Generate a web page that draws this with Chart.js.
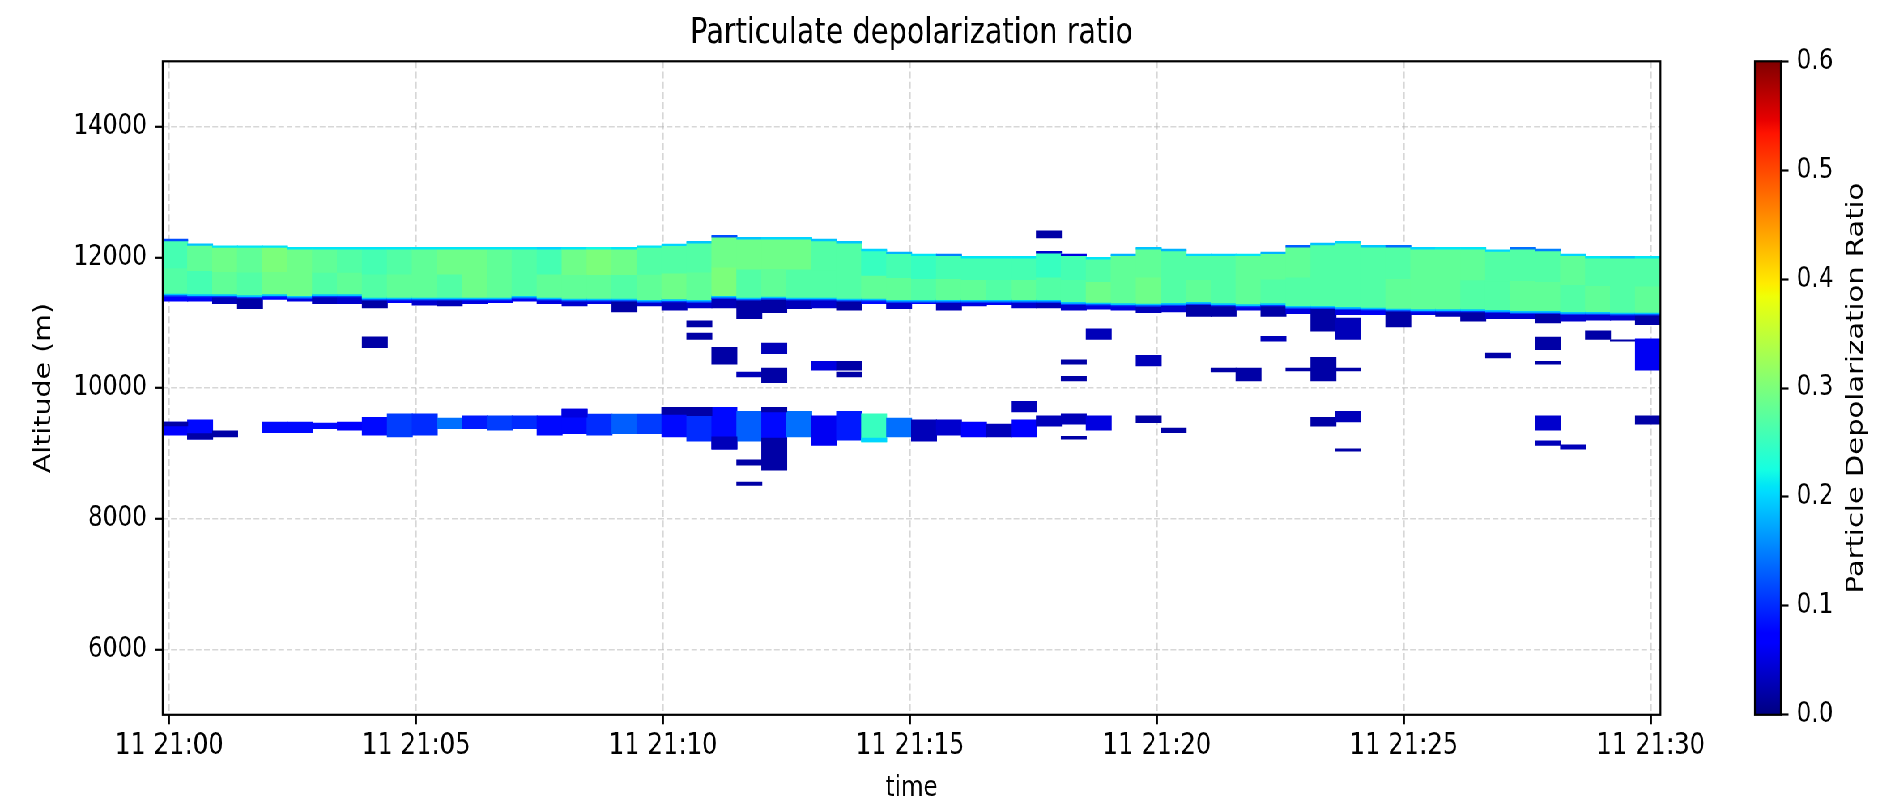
<!DOCTYPE html>
<html>
<head>
<meta charset="utf-8">
<script src="https://cdn.jsdelivr.net/npm/chart.js@4.4.1/dist/chart.umd.min.js"></script>
<style>
  html, body { margin: 0; padding: 0; background: #fff; overflow: hidden; }
  /* the figure is laid out on a wide stage and narrowed to the window width */
  #stage { position: absolute; left: 0; top: 0; width: 2335px; height: 799px;
           transform: scaleX(0.80985); transform-origin: 0 0; }
  #main { position: absolute; left: 0; top: 0; }
  #cbar { position: absolute; left: 2120px; top: 0; }
</style>
</head>
<body>
<div id="stage">
  <canvas id="main" width="2335" height="799"></canvas>
  <canvas id="cbar" width="215" height="799"></canvas>
</div>
<script>
// ---- profile times: seconds after 11 21:00:00 (centre of each ~30 s profile) ----
const timeSec = [
  7.1, 37.4, 67.8, 98.1, 128.4, 158.8, 189.1, 219.4, 249.7, 280.1,
  310.4, 340.7, 371.1, 401.4, 431.7, 462.1, 492.4, 522.7, 553.0, 583.4,
  613.7, 644.0, 674.4, 704.7, 735.0, 765.4, 795.7, 826.0, 856.3, 886.7,
  917.0, 947.3, 977.7, 1008.0, 1038.3, 1068.7, 1099.0, 1129.3, 1159.6, 1190.0,
  1220.3, 1250.6, 1281.0, 1311.3, 1341.6, 1372.0, 1402.3, 1432.6, 1462.9, 1493.3,
  1523.6, 1553.9, 1584.3, 1614.6, 1644.9, 1675.3, 1705.6, 1735.9, 1766.2, 1796.6
];

// ---- cirrus deck (m) ----
const cirrusTop = [
  12275, 12204, 12173, 12173, 12173, 12148, 12148, 12148, 12148, 12148,
  12148, 12148, 12148, 12148, 12148, 12148, 12148, 12148, 12148, 12173,
  12199, 12240, 12332, 12301, 12301, 12301, 12275, 12240, 12122, 12077,
  12046, 12046, 12010, 12010, 12010, 12087, 12046, 11995, 12046, 12148,
  12122, 12046, 12046, 12046, 12077, 12179, 12214, 12240, 12179, 12179,
  12148, 12148, 12148, 12112, 12148, 12122, 12046, 12010, 12010, 12010
];
// bottom of the bright (ice) part of the deck
const cirrusBodyBase = [
  11408, 11398, 11398, 11383, 11398, 11373, 11398, 11398, 11347, 11347,
  11347, 11347, 11347, 11347, 11373, 11347, 11332, 11332, 11332, 11312,
  11322, 11312, 11373, 11347, 11362, 11347, 11347, 11332, 11332, 11312,
  11312, 11312, 11312, 11312, 11312, 11312, 11281, 11271, 11260, 11255,
  11265, 11281, 11261, 11245, 11261, 11220, 11220, 11204, 11194, 11179,
  11169, 11169, 11169, 11158, 11143, 11143, 11128, 11128, 11118, 11118
];
// lowest detected signal of the deck (low-depolarization fringe below the body)
const cirrusBase = [
  11332, 11332, 11296, 11220, 11362, 11332, 11296, 11296, 11230, 11312,
  11271, 11261, 11296, 11312, 11332, 11296, 11261, 11296, 11169, 11261,
  11194, 11230, 11230, 11067, 11158, 11220, 11230, 11194, 11296, 11220,
  11296, 11194, 11261, 11281, 11230, 11230, 11194, 11210, 11194, 11158,
  11169, 11102, 11102, 11194, 11102, 11143, 10873, 11128, 11128, 10939,
  11128, 11102, 11026, 11067, 11067, 11000, 11026, 11041, 11041, 10975
];
const cirrusFringeRatio = [
  0.07, 0.06, 0.03, 0.02, 0.07, 0.05, 0.03, 0.04, 0.02, 0.06,
  0.04, 0.03, 0.05, 0.06, 0.06, 0.05, 0.04, 0.05, 0.02, 0.04,
  0.03, 0.04, 0.03, 0.02, 0.02, 0.03, 0.04, 0.02, 0.08, 0.04,
  0.07, 0.03, 0.05, 0.06, 0.04, 0.03, 0.04, 0.05, 0.05, 0.03,
  0.04, 0.02, 0.02, 0.05, 0.02, 0.05, 0.02, 0.05, 0.06, 0.02,
  0.05, 0.03, 0.02, 0.04, 0.04, 0.02, 0.04, 0.04, 0.04, 0.02
];
const cirrusLowerRatio = [
  0.27, 0.26, 0.28, 0.27, 0.29, 0.29, 0.27, 0.28, 0.27, 0.28,
  0.28, 0.27, 0.29, 0.28, 0.27, 0.28, 0.28, 0.28, 0.27, 0.28,
  0.29, 0.28, 0.30, 0.27, 0.28, 0.27, 0.27, 0.27, 0.28, 0.28,
  0.27, 0.28, 0.28, 0.27, 0.28, 0.27, 0.27, 0.29, 0.28, 0.29,
  0.27, 0.28, 0.27, 0.28, 0.27, 0.27, 0.27, 0.27, 0.27, 0.28,
  0.28, 0.28, 0.27, 0.27, 0.28, 0.28, 0.27, 0.28, 0.27, 0.28
];
const cirrusUpperRatio = [
  0.26, 0.28, 0.29, 0.28, 0.30, 0.29, 0.28, 0.27, 0.26, 0.27,
  0.28, 0.29, 0.29, 0.28, 0.27, 0.26, 0.29, 0.30, 0.29, 0.27,
  0.27, 0.27, 0.29, 0.29, 0.29, 0.29, 0.27, 0.27, 0.25, 0.26,
  0.25, 0.26, 0.26, 0.26, 0.26, 0.25, 0.26, 0.27, 0.28, 0.28,
  0.27, 0.27, 0.27, 0.28, 0.28, 0.28, 0.27, 0.27, 0.27, 0.27,
  0.28, 0.28, 0.28, 0.27, 0.27, 0.27, 0.28, 0.27, 0.27, 0.27
];
const cirrusTopRatio = [
  0.12, 0.19, 0.21, 0.21, 0.21, 0.21, 0.21, 0.21, 0.21, 0.21,
  0.21, 0.21, 0.21, 0.21, 0.21, 0.20, 0.21, 0.22, 0.21, 0.21,
  0.20, 0.19, 0.12, 0.19, 0.20, 0.20, 0.19, 0.19, 0.20, 0.18,
  0.21, 0.15, 0.21, 0.21, 0.21, 0.04, 0.05, 0.21, 0.18, 0.19,
  0.18, 0.20, 0.20, 0.21, 0.18, 0.13, 0.19, 0.20, 0.19, 0.14,
  0.20, 0.21, 0.21, 0.20, 0.14, 0.15, 0.20, 0.21, 0.19, 0.21
];

// ---- mid-level layer near 9.4 km (m); null = nothing detected ----
const layerBase = [
  9282, 9220, 9256, null, 9322, 9322, 9384, 9358, 9282, 9256,
  9282, 9384, 9384, 9358, 9384, 9282, 9307, 9282, 9307, 9307,
  9256, 9190, 9067, 9190, 9230, 9256, 9128, 9205, 9180, 9256,
  9190, 9282, 9256, 9256, 9256, 9419, 9450, 9358, null, 9476,
  9322, null, null, null, null, null, 9419, 9486, null, null,
  null, null, null, null, null, 9358, null, null, null, 9450
];
const layerTop = [
  9476, 9511, 9343, null, 9476, 9476, 9460, 9476, 9547, 9603,
  9603, 9537, 9572, 9572, 9572, 9572, 9674, 9597, 9597, 9597,
  9700, 9700, 9700, 9638, 9700, 9638, 9572, 9638, 9603, 9537,
  9511, 9511, 9476, 9445, 9511, 9572, 9603, 9572, null, 9572,
  9384, null, null, null, null, null, 9547, 9638, null, null,
  null, null, null, null, null, 9572, null, null, null, 9572
];
const layerRatio = [
  0.07, 0.08, 0.02, null, 0.08, 0.08, 0.08, 0.07, 0.08, 0.11,
  0.10, 0.14, 0.09, 0.11, 0.10, 0.08, 0.08, 0.10, 0.13, 0.11,
  0.08, 0.10, 0.08, 0.13, 0.08, 0.14, 0.06, 0.09, 0.25, 0.14,
  0.03, 0.04, 0.07, 0.03, 0.07, 0.03, 0.03, 0.05, null, 0.02,
  0.02, null, null, null, null, null, 0.02, 0.03, null, null,
  null, null, null, null, null, 0.04, null, null, null, 0.02
];

// ---- isolated detections: [profile index, bottom (m), top (m), ratio] ----
const patches = [
  [8, 10623, 10781, 0.02], [21, 10939, 11026, 0.02], [21, 10750, 10837, 0.02],
  [22, 10368, 10618, 0.02], [23, 10174, 10240, 0.03], [24, 10531, 10684, 0.03],
  [24, 10088, 10302, 0.02], [26, 10276, 10404, 0.05], [27, 10276, 10404, 0.02],
  [27, 10174, 10240, 0.02], [35, 12301, 12403, 0.02], [36, 10368, 10429, 0.02],
  [36, 10113, 10174, 0.02], [37, 10750, 10903, 0.03], [39, 10342, 10495, 0.03],
  [42, 10251, 10302, 0.02], [43, 10113, 10302, 0.02], [44, 10720, 10786, 0.03],
  [45, 10266, 10302, 0.02], [46, 10113, 10465, 0.02], [47, 10750, 11067, 0.03],
  [47, 10266, 10302, 0.02], [53, 10465, 10531, 0.02], [55, 10592, 10776, 0.02],
  [55, 10368, 10404, 0.02], [57, 10750, 10872, 0.02], [58, 10720, 10735, 0.02],
  [59, 10276, 10750, 0.06],
  [0, 9425, 9476, 0.02], [1, 9220, 9300, 0.02], [16, 9560, 9674, 0.05],
  [20, 9600, 9700, 0.02], [21, 9580, 9700, 0.02], [22, 9067, 9250, 0.03],
  [23, 8823, 8899, 0.02], [23, 8516, 8557, 0.02], [24, 9640, 9700, 0.02],
  [24, 8746, 9230, 0.02], [28, 9180, 9230, 0.20], [34, 9638, 9792, 0.03],
  [36, 9220, 9256, 0.02], [47, 9037, 9067, 0.02], [55, 9128, 9190, 0.03],
  [56, 9067, 9128, 0.03]
];

// ---- axes ----
const xTickSec = [0, 300, 600, 900, 1200, 1500, 1800];
const xTickLabels = ['11 21:00', '11 21:05', '11 21:10', '11 21:15', '11 21:20', '11 21:25', '11 21:30'];
const yTicks = [6000, 8000, 10000, 12000, 14000];
const yTickLabels = ['6000', '8000', '10000', '12000', '14000'];
const altRange = [5000, 15000];
const cbarTicks = [0, 0.1, 0.2, 0.3, 0.4, 0.5, 0.6];
const cbarTickLabels = ['0.0', '0.1', '0.2', '0.3', '0.4', '0.5', '0.6'];
const RATIO_MAX = 0.6;

// ---- jet colour map (matplotlib segment data) ----
const JET = {
  r: [[0, 0], [0.35, 0], [0.66, 1], [0.89, 1], [1, 0.5]],
  g: [[0, 0], [0.125, 0], [0.375, 1], [0.64, 1], [0.91, 0], [1, 0]],
  b: [[0, 0.5], [0.11, 1], [0.34, 1], [0.65, 0], [1, 0]]
};
const JET_STOPS = [0, 0.11, 0.125, 0.34, 0.35, 0.375, 0.64, 0.65, 0.66, 0.89, 0.91, 1];
function channel(pts, f) {
  for (let i = 1; i < pts.length; i++) {
    if (f <= pts[i][0]) {
      const [x0, y0] = pts[i - 1], [x1, y1] = pts[i];
      return y0 + (y1 - y0) * (f - x0) / (x1 - x0);
    }
  }
  return pts[pts.length - 1][1];
}
function jet(f) {
  f = Math.min(1, Math.max(0, f));
  const c = k => Math.round(255 * channel(JET[k], f));
  return `rgb(${c('r')},${c('g')},${c('b')})`;
}
const cellColor = c => (c.raw && c.raw.r != null) ? jet(c.raw.r / RATIO_MAX) : 'rgba(0,0,0,0)';

// ---- cells for the bar datasets ----
const TOP_EDGE = 18;                       // thin low-ratio rim at the cloud top (m)
const BASE_RIM = [[0, 20, 0.11], [20, 45, 0.19]]; // blue/cyan rim above the body base (m, m, ratio)

const cirrusCells = [];
timeSec.forEach((t, i) => {
  const base = cirrusBase[i], body = cirrusBodyBase[i], top = cirrusTop[i];
  if (base < body) cirrusCells.push({ x: t, y: [base, body], r: cirrusFringeRatio[i] });
  BASE_RIM.forEach(([a, b, r]) => cirrusCells.push({ x: t, y: [body + a, body + b], r }));
  const mid = (body + top) / 2;
  cirrusCells.push({ x: t, y: [body + 45, mid], r: cirrusLowerRatio[i] });
  cirrusCells.push({ x: t, y: [mid, top - TOP_EDGE], r: cirrusUpperRatio[i] });
  cirrusCells.push({ x: t, y: [top - TOP_EDGE, top], r: cirrusTopRatio[i] });
});

const layerCells = [];
timeSec.forEach((t, i) => {
  if (layerBase[i] != null) layerCells.push({ x: t, y: [layerBase[i], layerTop[i]], r: layerRatio[i] });
});

const patchCells = patches.map(([i, lo, hi, r]) => ({ x: timeSec[i], y: [lo, hi], r }));

const half = (timeSec[1] - timeSec[0]) / 2;
const xMin = timeSec[0] - half;
const xMax = timeSec[timeSec.length - 1] + half;

// ---- layout of the figure on the stage (px) ----
const STAGE_W = 2335, STAGE_H = 799;
const AREA = { left: 200.9, right: 2050.3, top: 61.3, bottom: 714.8 };
const FONT = "'DejaVu Sans', sans-serif";
const TEXT = '#000';
const GRID = 'rgba(176,176,176,0.5)';

Chart.defaults.font.family = FONT;
Chart.defaults.color = TEXT;

const axesFrame = {
  id: 'axesFrame',
  afterDraw(chart) {
    const { ctx, chartArea: a } = chart;
    ctx.save();
    ctx.strokeStyle = '#000';
    ctx.lineWidth = 2.2;
    ctx.strokeRect(a.left, a.top, a.right - a.left, a.bottom - a.top);
    ctx.restore();
  }
};

new Chart(document.getElementById('main'), {
  type: 'bar',
  data: {
    datasets: [
      { label: 'isolated', data: patchCells, order: 0, backgroundColor: cellColor },
      { label: 'cirrus', data: cirrusCells, order: 1, backgroundColor: cellColor },
      { label: 'mid layer', data: layerCells, order: 2, backgroundColor: cellColor }
    ]
  },
  options: {
    responsive: false,
    animation: false,
    events: [],
    layout: { padding: { left: 0, right: STAGE_W - AREA.right, top: 0, bottom: 0 } },
    datasets: { bar: { grouped: false, barPercentage: 1, categoryPercentage: 1, borderWidth: 0, inflateAmount: 0.6 } },
    plugins: { legend: { display: false }, tooltip: { enabled: false }, title: { display: false } },
    scales: {
      x: {
        type: 'linear', position: 'bottom', min: xMin, max: xMax, offset: false, z: 1,
        afterFit: s => { s.height = STAGE_H - AREA.bottom; },
        afterBuildTicks: s => { s.ticks = xTickSec.map(v => ({ value: v })); },
        ticks: { callback: (v, i) => xTickLabels[i], font: { size: 30 }, color: TEXT, padding: 4.2, maxRotation: 0, autoSkip: false },
        grid: { offset: false, color: GRID, lineWidth: 1.6, tickColor: '#000', tickWidth: 2.2, tickLength: 9.5 },
        border: { display: false, dash: [7, 3.2] },
        title: { display: true, text: 'time', font: { size: 28.5 }, color: TEXT, padding: { top: 0, bottom: -6.4 } }
      },
      xTop: {
        type: 'linear', position: 'top', min: xMin, max: xMax, offset: false,
        afterFit: s => { s.height = AREA.top; },
        ticks: { display: false },
        grid: { display: false, offset: false },
        border: { display: false },
        title: { display: true, text: 'Particulate depolarization ratio', font: { size: 35.5 }, color: TEXT, padding: { top: 12, bottom: 0 } }
      },
      y: {
        type: 'linear', position: 'left', min: altRange[0], max: altRange[1], beginAtZero: false, z: 1,
        afterFit: s => { s.width = AREA.left; },
        afterBuildTicks: s => { s.ticks = yTicks.map(v => ({ value: v })); },
        ticks: { callback: (v, i) => yTickLabels[i], font: { size: 28.5 }, color: TEXT, padding: 10 },
        grid: { color: GRID, lineWidth: 1.6, tickColor: '#000', tickWidth: 2.2, tickLength: 9.5 },
        border: { display: false, dash: [7, 3.2] },
        title: { display: true, text: 'Altitude (m)', font: { size: 28.5 }, color: TEXT, padding: { top: 37.3, bottom: 0 } }
      }
    }
  },
  plugins: [axesFrame]
});

// ---- colour bar ----
const CB = { left: 47, right: 79, labelX: 172, width: 215 };
const cbarLabel = {
  id: 'cbarLabel',
  afterDraw(chart) {
    const { ctx, chartArea: a } = chart;
    ctx.save();
    ctx.translate(CB.labelX, (a.top + a.bottom) / 2);
    ctx.rotate(-Math.PI / 2);
    ctx.font = `29px ${FONT}`;
    ctx.fillStyle = TEXT;
    ctx.textAlign = 'center';
    ctx.textBaseline = 'middle';
    ctx.fillText('Particle Depolarization Ratio', 0, 0);
    ctx.restore();
  }
};

new Chart(document.getElementById('cbar'), {
  type: 'bar',
  data: {
    labels: [''],
    datasets: [{
      data: [[0, RATIO_MAX]],
      backgroundColor: c => {
        const a = c.chart.chartArea;
        if (!a) return 'rgba(0,0,0,0)';
        const g = c.chart.ctx.createLinearGradient(0, a.bottom, 0, a.top);
        JET_STOPS.forEach(s => g.addColorStop(s, jet(s)));
        return g;
      }
    }]
  },
  options: {
    responsive: false,
    animation: false,
    events: [],
    layout: { padding: { left: CB.left, right: 0, top: AREA.top, bottom: STAGE_H - AREA.bottom } },
    datasets: { bar: { barPercentage: 1, categoryPercentage: 1, borderWidth: 0 } },
    plugins: { legend: { display: false }, tooltip: { enabled: false } },
    scales: {
      x: { display: false },
      y: {
        position: 'right', min: 0, max: RATIO_MAX, beginAtZero: false,
        afterFit: s => { s.width = CB.width - CB.right; },
        afterBuildTicks: s => { s.ticks = cbarTicks.map(v => ({ value: v })); },
        ticks: { callback: (v, i) => cbarTickLabels[i], font: { size: 28.5 }, color: TEXT, padding: 10 },
        grid: { drawOnChartArea: false, tickColor: '#000', tickWidth: 2.2, tickLength: 9.5 },
        border: { display: false }
      }
    }
  },
  plugins: [axesFrame, cbarLabel]
});
</script>
</body>
</html>
